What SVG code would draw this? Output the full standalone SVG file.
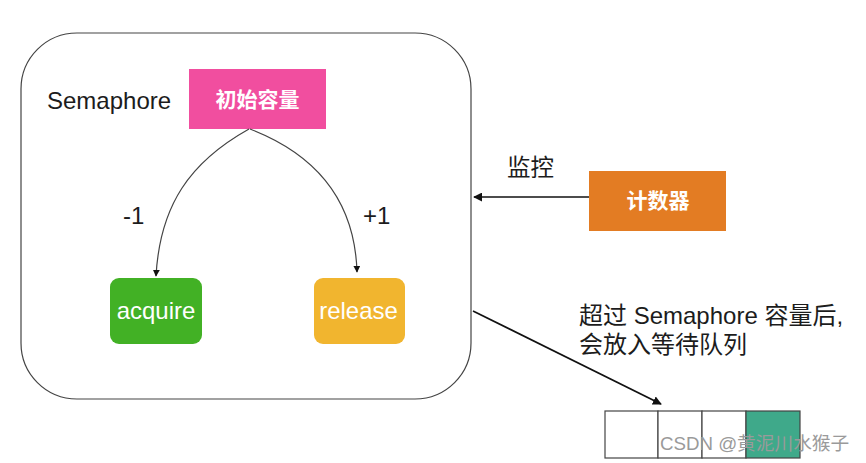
<svg xmlns="http://www.w3.org/2000/svg" width="866" height="463" viewBox="0 0 866 463">
<style>
text{font-family:"Liberation Sans","Noto Sans CJK SC",sans-serif;fill:#1c1c1c}
.w{fill:#fff;text-anchor:middle}
.b{font-weight:700}
.l{fill:none;stroke:#444;stroke-width:1.2}
.a{fill:none;stroke:#111;stroke-width:1.7}
.c{fill:#fff;stroke:#444;stroke-width:1.2}
</style>
<defs>
<marker id="m" viewBox="0 0 10 10" refX="9" refY="5" markerWidth="9" markerHeight="9" markerUnits="userSpaceOnUse" orient="auto"><path d="M0 0L10 5L0 10z" fill="#111"/></marker>
<marker id="s" viewBox="0 0 10 10" refX="9" refY="5" markerWidth="7" markerHeight="7" markerUnits="userSpaceOnUse" orient="auto"><path d="M0 0L10 5L0 10z" fill="#111"/></marker>
</defs>
<rect width="866" height="463" fill="#fff"/>
<g id="semaphore"><rect x="21" y="33" width="450" height="366" rx="56" ry="56" fill="#fff" stroke="#444" stroke-width="1.2"/><text x="47" y="109" font-size="24">Semaphore</text></g>
<g id="capacity"><rect x="189" y="69" width="137" height="60" fill="#f14e9f"/><text class="w b" x="257.500" y="107" font-size="21">初始容量</text></g>
<g id="acquire"><rect x="110" y="278" width="92" height="66" rx="9" fill="#42b125"/><text class="w" x="156" y="319" font-size="24">acquire</text></g>
<g id="release"><rect x="314" y="278" width="91" height="66" rx="9" fill="#f1b52f"/><text class="w" x="358.500" y="319" font-size="24">release</text></g>
<g id="counter"><rect x="589" y="171" width="137" height="60" fill="#e37c23"/><text class="w b" x="658" y="208" font-size="21">计数器</text></g>
<g id="queue">
<rect class="c" x="605" y="411" width="53" height="47"/><rect class="c" x="658" y="411" width="44" height="47"/><rect class="c" x="702" y="411" width="44" height="47"/><rect x="746" y="411" width="54" height="47" fill="#3fa98a" stroke="#444" stroke-width="1.2"/>
</g>
<g id="connectors">
<path class="l" marker-end="url(#s)" d="M249 129C190 162 160 205 156 276"/>
<path class="l" marker-end="url(#s)" d="M250 129C320 156 355 205 357 272"/>
<path class="a" marker-end="url(#m)" d="M589 197H474"/>
<path class="a" marker-end="url(#m)" d="M473 311L661 404"/>
</g>
<g id="labels">
<text x="123" y="224" font-size="24">-1</text>
<text x="363" y="224" font-size="24">+1</text>
<text x="507" y="176" font-size="23.500">监控</text>
<text x="579" y="324" font-size="24">超过 Semaphore 容量后,</text>
<text x="579" y="353" font-size="24">会放入等待队列</text>
<text x="660" y="450" font-size="18.700" style="fill:#9a9a9a">CSDN @黄泥川水猴子</text>
</g>
</svg>
